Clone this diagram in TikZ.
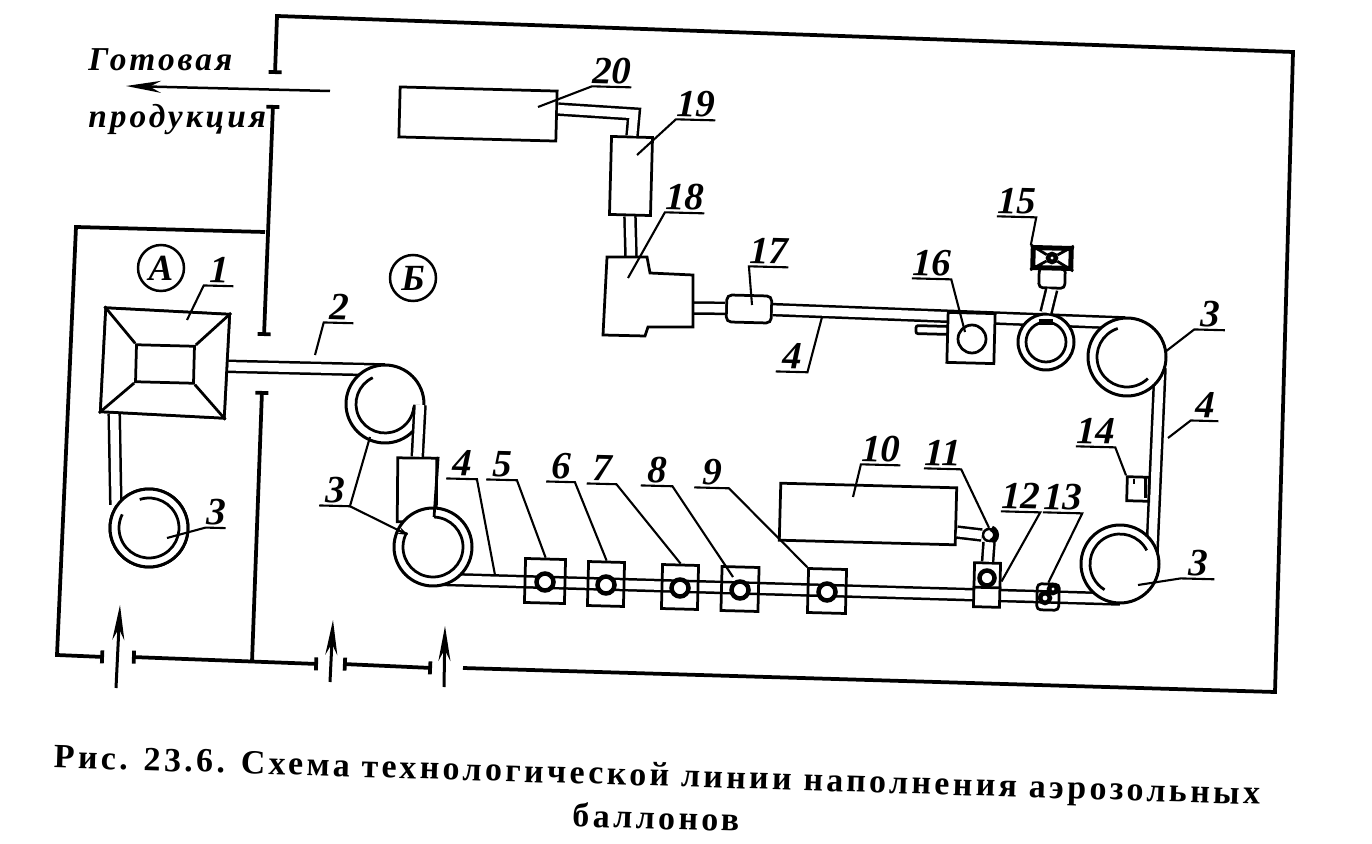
\documentclass[tikz,border=0pt]{standalone}
\usepackage{fontspec}
\usetikzlibrary{arrows.meta}
\setmainfont{Liberation Serif}
\newfontfamily\captionfont[LetterSpace=10]{Liberation Serif}
\newfontfamily\wordfont[LetterSpace=9]{Liberation Serif}
\tikzset{
  part/.style={draw,line width=0.055cm,fill=white,inner sep=0,minimum width=#1*0.02cm,rotate=-1.5},
  part/.default=20,
  tall/.style={minimum height=#1*0.02cm},
  wall/.style={line width=0.075cm,{Bar[width=0.26cm]}-{Bar[width=0.26cm]}},
  plain/.style={line width=0.055cm},
  strip/.style={line width=0.05cm,double,double distance=0.17cm,line join=miter},
  lead/.style={line width=0.042cm},
  num/.style={font=\fontsize{22}{22}\selectfont\bfseries\itshape,inner sep=0,minimum height=0.62cm,minimum width=#1*0.02cm,rotate=-1.5},
  roller/.style={draw,circle,line width=0.06cm,fill=white,inner sep=0,minimum size=1.56cm},
  hub/.style={draw,circle,line width=0.09cm,fill=white,inner sep=0,minimum size=#1*0.02cm},
  hub/.default=17,
  zone/.style={draw,circle,line width=0.05cm,inner sep=0,minimum size=0.92cm,font=\fontsize{21}{21}\selectfont\bfseries\itshape},
  word/.style={inner sep=0,font=\wordfont\fontsize{19}{19}\selectfont\bfseries\itshape,anchor=base west},
  capt/.style={inner sep=0,font=\captionfont\fontsize{19.3}{19.3}\selectfont\bfseries,rotate=-1.75}
}
\begin{document}
\begin{tikzpicture}[x=0.02cm,y=-0.02cm,>={Stealth[length=0.7cm,width=0.24cm]}]
  \useasboundingbox (0,0) rectangle (1372,844);
  % walls
  \draw[line width=0.075cm,{Bar[width=0.26cm]}-] (275,74) -- (277,16) -- (1293,52) -- (1275,692) -- (463,668);
  \draw[line width=0.075cm,{Bar[width=0.26cm]}-{Bar[width=0.26cm]}] (273,105) -- (264,336);
  \draw[line width=0.075cm,-{Bar[width=0.26cm]}] (265,232) -- (76,227) -- (57,655) -- (104,657);
  \draw[wall] (132,657) -- (318,664);
  \draw[wall] (343,664) -- (432,668);
  \draw[line width=0.075cm,{Bar[width=0.26cm]}-] (262,391) -- (252,662);
  % arrows
  \draw[->,line width=0.06cm] (116,688) -- (120,605);
  \draw[->,line width=0.06cm] (330,682) -- (333,620);
  \draw[->,line width=0.06cm] (444,687) -- (445,626);
  \node[word] (ready) at (88,71) {Готовая};
  \node[word] (goods) at (88,128) {продукция};
  \coordinate (out1) at (330,91);
  \coordinate (out2) at (126,86);
  \draw[->,line width=0.05cm] (out1) -- (out2);
  % zones
  \node[zone] (zoneA) at (161,268) {А};
  \node[zone] (zoneB) at (413,278) {Б};
  % free ends and bends of the belts
  \coordinate (belt1) at (430,579);
  \coordinate (belt2) at (1120,599);
  \coordinate (belt3) at (1160,368);
  \coordinate (belt4) at (1152,552);
  \coordinate (belt5) at (1125,323);
  \coordinate (belt6) at (385,370);
  \coordinate (belt7) at (420,405);
  \coordinate (bend20) at (634,114);
  \coordinate (b18e) at (693,308);
  \coordinate (b18n) at (631,257);
  % belts under the parts
  \node[part=124,tall=104,rotate=-1.5] (b1) at (165,363) {};
  \node[part=157,tall=50] (b20) at (478,114) {};
  \node[part=41,tall=78] (b19) at (631,176) {};
  \node[part=45,tall=27,rounded corners=0.1cm] (b17) at (749,309) {};
  \node[part=176,tall=57] (b10) at (868,514) {};
  \node[roller] (r1) at (149,528) {};
  \draw[strip] (b1.228) -- (r1.145);
  \draw[strip] (b1.east) -- (belt6);
  \draw[strip] (belt1) -- (belt2);
  \draw[strip] (belt3) -- (belt4);
  \draw[strip] (b17.east) -- (belt5);
  \draw[strip] (b18e) -- (b17.west);
  \draw[strip] (b19.south) -- (b18n);
  \draw[strip] (b20.5) -- (bend20) -- (b19.north);
  % rollers
  \node[roller] (r1) at (149,528) {};
  \node[roller] (r2) at (385,404) {};
  \node[part=39,tall=64,rotate=1] (b3) at (417,490) {};
  \node[roller] (r3) at (433,547) {};
  \node[roller] (r4) at (1120,564) {};
  \node[roller] (r5) at (1127,357) {};
  \draw[plain] (r1.center) ++(252:30) arc[start angle=252,end angle=567,radius=30];
  \draw[plain] (r2.center) ++(245:29) arc[start angle=245,end angle=5,radius=29];
  \draw[plain] (r3.center) ++(272:30) coordinate (r3s) arc[start angle=272,end angle=569,radius=30];
  \draw[plain] (b3.north east) -- (r3s);
  \draw[plain] (r4.center) ++(-27:30) arc[start angle=-27,end angle=-239,radius=30];
  \draw[plain] (r5.center) ++(252:30) arc[start angle=252,end angle=46,radius=30];
  \draw[strip] (belt7) -- (b3.north);
  % hopper 1
  \node[part=124,tall=104,rotate=-1.5] (b1) at (165,363) {};
  \node[part=58,tall=37] (b1i) at (165,364) {};
  \draw[plain] (b1.north west) -- (b1i.north west);
  \draw[plain] (b1.north east) -- (b1i.north east);
  \draw[plain] (b1.south east) -- (b1i.south east);
  \draw[plain] (b1.south west) -- (b1i.south west);
  % stations on the lower belt
  \foreach \n/\x/\y/\w in {5/545/581/40,6/606/584/36,7/680/587/36,8/740/589/37,9/827/591/38}{
    \node[part=\w,tall=44,fill=none] (m\n) at (\x,\y) {};
    \node[hub] (h\n) at (\x,\y+1) {};
  }
  % units 18, 19, 20 and 17
  \draw[plain,fill=white] (607,257) -- (647,257) -- (650,273) -- (693,275) -- (693,327) -- (648,327) -- (645,336) -- (603,335) -- cycle;
  % unit 10, 11, 12, 13, 14
  \node[hub=12,line width=0.05cm] (h11) at (989,535) {};
  \draw[strip] (b10.350) -- (h11.west);
  \draw[line width=0.12cm] (h11.center) ++(-70:7) arc[start angle=-70,end angle=70,radius=7];
  \node[part=26,tall=44] (b12) at (987,585) {};
  \draw[strip] (h11.south) -- (b12.north);
  \draw[plain] (b12.190) -- (b12.350);
  \node[hub=15] (h12) at (987,578) {};
  \node[part=22,tall=26,rounded corners=0.08cm,fill=none] (b13) at (1048,597) {};
  \node[hub=8] (h13a) at (1053,589) {};
  \node[hub=10] (h13b) at (1045,598) {};
  \node[part=22,tall=24] (b14) at (1138,489) {};
  \draw[plain] (b14.north east) ++(-5,0) -- ++(0,22);
  \draw[plain] (b14.north west) ++(8,4) -- ++(0,5);
  % units 15, 16
  \node[part=32,tall=8,rounded corners=0.04cm] (b16s) at (932,330) {};
  \node[part=47,tall=50] (b16) at (971,338) {};
  \node[draw,circle,line width=0.055cm,inner sep=0,minimum size=0.56cm] (c16) at (972,339) {};
  \node[part=26,tall=20,rounded corners=0.08cm] (d15b) at (1052,278) {};
  \node[roller,minimum size=1.12cm] (r6) at (1046,342) {};
  \node[draw,circle,line width=0.055cm,inner sep=0,minimum size=0.8cm] (r6i) at (1046,342) {};
  \draw[strip] (d15b.south) -- (r6.north);
  \node[part=38,tall=20,line width=0.1cm] (d15) at (1052,258) {};
  \node[hub=8] (d15c) at (1052,258) {};
  \draw[plain] (d15.north west) -- (d15c);
  \draw[plain] (d15.north east) -- (d15c);
  \draw[plain] (d15.south west) -- (d15c);
  \draw[plain] (d15.south east) -- (d15c);
  \draw[line width=0.12cm] (r6i.110) -- (r6i.70);
  % targets of the leaders
  \coordinate (t1) at (187,320);
  \coordinate (t2) at (315,355);
  \coordinate (t3a) at (167,538);
  \coordinate (t3b) at (370,437);
  \coordinate (t3c) at (408,535);
  \coordinate (t4a) at (495,575);
  \coordinate (t4b) at (822,317);
  \coordinate (t4c) at (1168,438);
  \coordinate (t3d) at (1165,352);
  \coordinate (t3e) at (1138,585);
  \coordinate (t8) at (733,577);
  \coordinate (t10) at (853,497);
  \coordinate (t18) at (628,278);
  \coordinate (t19) at (637,155);
  \coordinate (t20) at (538,107);
  \coordinate (t17) at (752,305);
  \coordinate (t16) at (965,332);
  % labels
  \node[num=29] (n1) at (219,270) {1};
  \draw[lead] (n1.south east) -- (n1.south west) -- (t1);
  \node[num=29] (n2) at (339,307) {2};
  \draw[lead] (n2.south east) -- (n2.south west) -- (t2);
  \node[num=16] (n3a) at (216,512) {3};
  \draw[lead] (n3a.south east) -- (n3a.south west) -- (t3a);
  \node[num=30] (n3b) at (335,490) {3};
  \draw[lead] (n3b.south west) -- (n3b.south east) -- (t3b);
  \draw[lead,-{Stealth[length=0.2cm,width=0.14cm]}] (n3b.south east) -- (t3c);
  \node[num=30] (n4a) at (462,463) {4};
  \draw[lead] (n4a.south west) -- (n4a.south east) -- (t4a);
  \node[num=30] (n5) at (502,464) {5};
  \draw[lead] (n5.south west) -- (n5.south east) -- (m5.north);
  \node[num=28] (n6) at (561,466) {6};
  \draw[lead] (n6.south west) -- (n6.south east) -- (m6.north);
  \node[num=29] (n7) at (602,468) {7};
  \draw[lead] (n7.south west) -- (n7.south east) -- (m7.north);
  \node[num=31] (n8) at (657,470) {8};
  \draw[lead] (n8.south west) -- (n8.south east) -- (t8);
  \node[num=34] (n9) at (712,472) {9};
  \draw[lead] (n9.south west) -- (n9.south east) -- (m9.north west);
  \node[num=25] (n10) at (881,449) {10};
  \draw[lead] (n10.south east) -- (n10.south west) -- (t10);
  \node[num=27] (n11) at (943,453) {11};
  \draw[lead] (n11.south west) -- (n11.south east) -- (h11.north);
  \node[num=24] (n12) at (1021,496) {12};
  \draw[lead] (n12.south west) -- (n12.south east) -- (b12.15);
  \node[num=28] (n13) at (1063,497) {13};
  \draw[lead] (n13.south west) -- (n13.south east) -- (b13.north);
  \node[num=28] (n14) at (1096,431) {14};
  \draw[lead] (n14.south west) -- (n14.south east) -- (b14.north west);
  \node[num=32] (n15) at (1017,201) {15};
  \draw[lead] (n15.south west) -- (n15.south east) -- (d15.north west);
  \node[num=29] (n16) at (932,263) {16};
  \draw[lead] (n16.south west) -- (n16.south east) -- (t16);
  \node[num=28] (n17) at (769,251) {17};
  \draw[lead] (n17.south east) -- (n17.south west) -- (t17);
  \node[num=26] (n18) at (685,197) {18};
  \draw[lead] (n18.south east) -- (n18.south west) -- (t18);
  \node[num=28] (n19) at (696,104) {19};
  \draw[lead] (n19.south east) -- (n19.south west) -- (t19);
  \node[num=30] (n20) at (612,71) {20};
  \draw[lead] (n20.south east) -- (n20.south west) -- (t20);
  \node[num=31] (n4b) at (792,356) {4};
  \draw[lead] (n4b.south west) -- (n4b.south east) -- (t4b);
  \node[num=27] (n4c) at (1205,405) {4};
  \draw[lead] (n4c.south east) -- (n4c.south west) -- (t4c);
  \node[num=30] (n3d) at (1210,314) {3};
  \draw[lead] (n3d.south east) -- (n3d.south west) -- (t3d);
  \node[num=33] (n3e) at (1198,563) {3};
  \draw[lead] (n3e.south east) -- (n3e.south west) -- (t3e);
  % caption
  \node[capt] (cap1) at (657,778) {Рис. 23.6. Схема технологической линии наполнения аэрозольных};
  \node[capt] (cap2) at (656,817) {баллонов};
\end{tikzpicture}
\end{document}
